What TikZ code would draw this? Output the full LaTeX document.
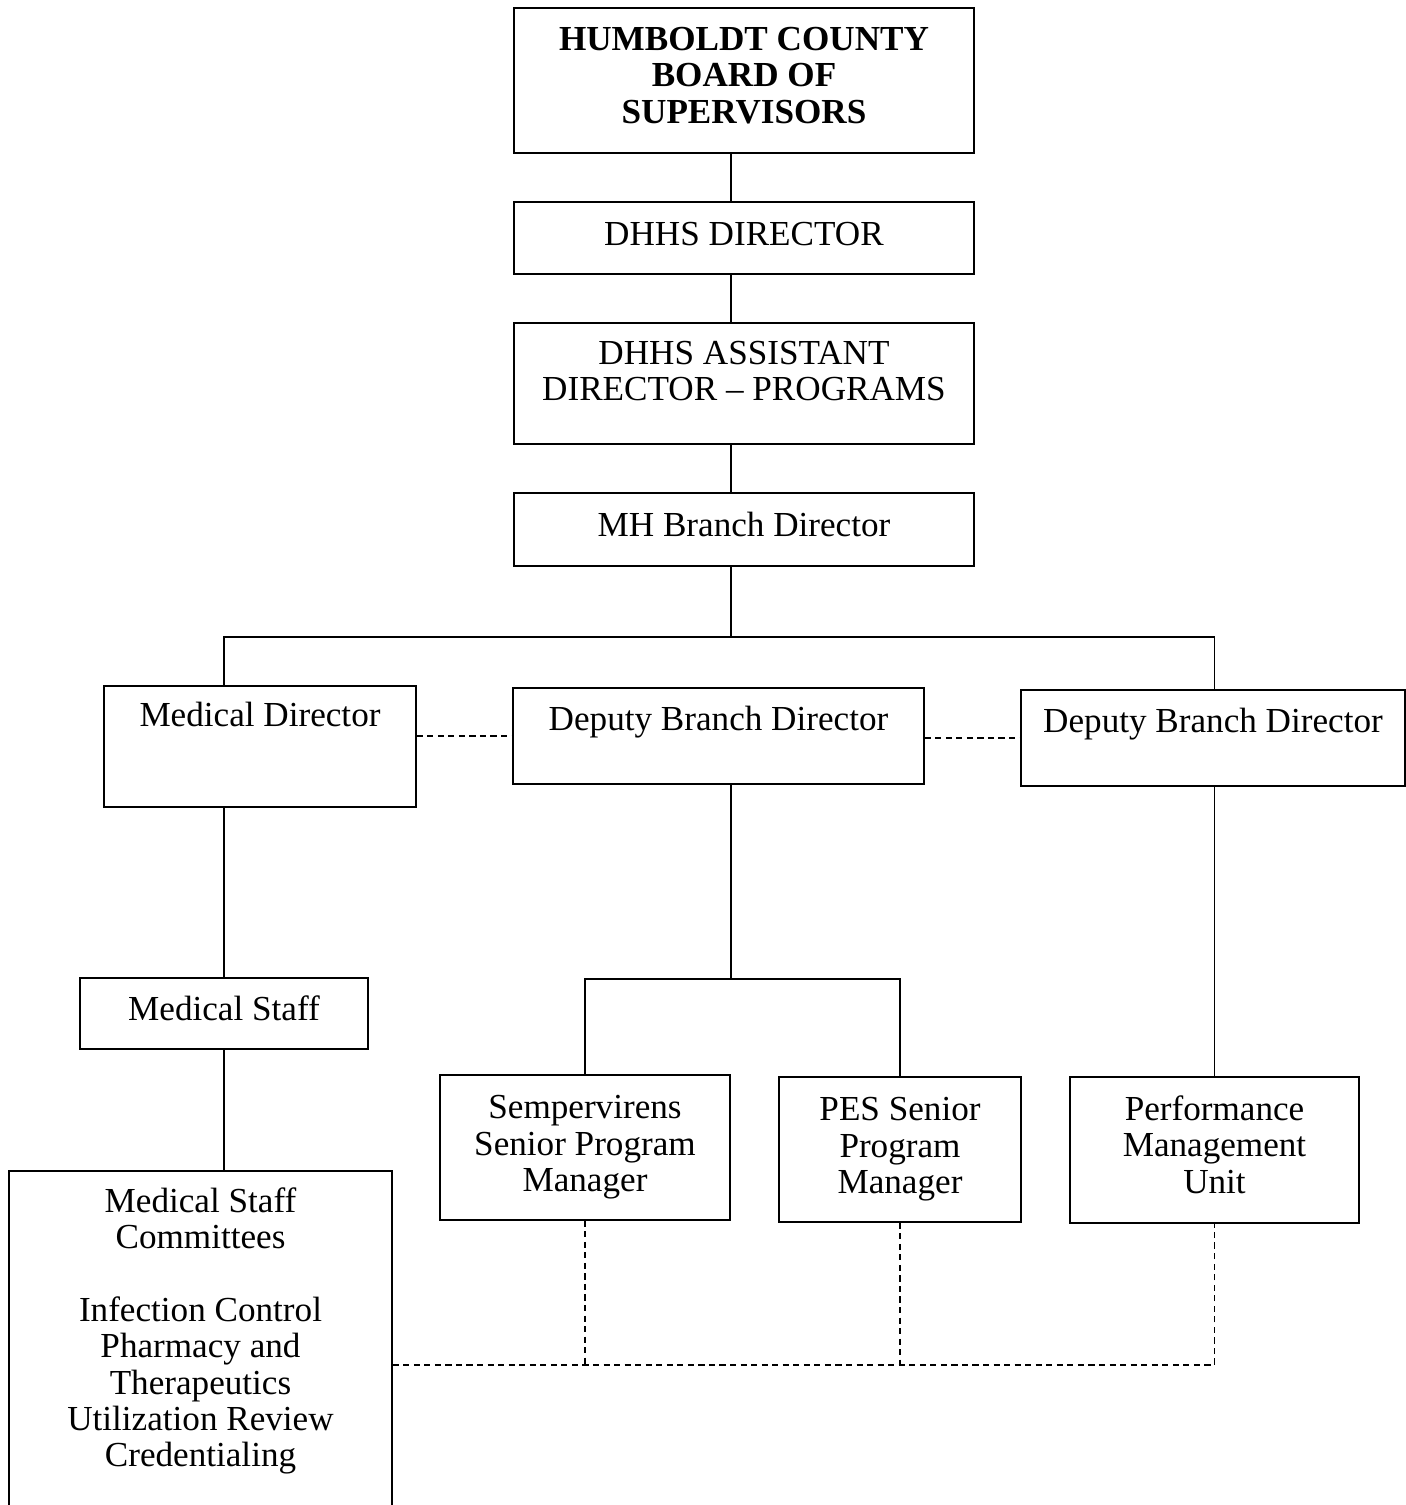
\documentclass[tikz,border=0pt]{standalone}
\usepackage{fontspec}
\setmainfont{Liberation Serif}
\usetikzlibrary{positioning, calc}

\begin{document}
\begin{tikzpicture}[x=0.02cm, y=-0.02cm,
    box/.style={draw, line width=0.8pt, align=center, inner sep=0pt,
        font=\fontsize{20}{20.7}\selectfont},
    link/.style={line width=0.8pt},
    dotlink/.style={line width=0.6pt, dash pattern=on 3.5pt off 2.5pt}]
    \useasboundingbox (0,0) rectangle (1406,1505);

    % top of the chain
    \node[box, minimum width=9.2cm, minimum height=2.9cm, font=\fontsize{20}{20.7}\selectfont\bfseries]
        (board) at (744,80.5) {HUMBOLDT COUNTY\\BOARD OF\\SUPERVISORS\strut};
    \node[box, minimum width=9.2cm, minimum height=1.44cm] (dir) at (744,238) {DHHS DIRECTOR\strut};
    \node[box, minimum width=9.2cm, minimum height=2.42cm] (asst) at (744,383.5)
        {DHHS ASSISTANT\\DIRECTOR -- PROGRAMS\\[-6.5pt]};
    \node[box, minimum width=9.2cm, minimum height=1.46cm] (mhdir) at (744,529.5) {MH Branch Director\strut};

    % second row
    \node[box, minimum width=6.24cm, minimum height=2.42cm] (meddir) at (260,746.5)
        {Medical Director\\[15.5pt]};
    \node[box, minimum width=8.22cm, minimum height=1.92cm] (dep1) at (718.5,736)
        {Deputy Branch Director\\~};
    \node[box, minimum width=7.68cm, minimum height=1.92cm] (dep2) at (1213,738)
        {Deputy Branch Director\\~};

    % lower boxes
    \node[box, minimum width=5.76cm, minimum height=1.42cm] (medstaff) at (224,1013.5) {Medical Staff\strut};
    \node[box, minimum width=7.66cm, minimum height=6.78cm] (cttees) at (200.5,1340.5)
        {Medical Staff\\Committees\\~\\Infection Control\\Pharmacy and\\Therapeutics\\Utilization Review\\Credentialing\\[-5.4pt]};
    \node[box, minimum width=5.8cm, minimum height=2.9cm] (semp) at (585,1147.5)
        {Sempervirens\\Senior Program\\Manager};
    \node[box, minimum width=4.84cm, minimum height=2.9cm] (pes) at (900,1149.5)
        {PES Senior\\Program\\Manager};
    \node[box, minimum width=5.78cm, minimum height=2.92cm] (perf) at (1214.5,1150)
        {Performance\\Management\\Unit\strut};

    \coordinate (spine) at (731,0);
    \coordinate (bus) at (0,637);
    \coordinate (fork) at (0,979);
    \coordinate (dline) at (0,1365);

    % solid lines
    \draw[link] (board.south -| spine) -- (dir.north -| spine);
    \draw[link] (dir.south -| spine) -- (asst.north -| spine);
    \draw[link] (asst.south -| spine) -- (mhdir.north -| spine);
    \draw[link] (mhdir.south -| spine) -- (spine |- bus);
    \draw[link] (medstaff.north |- meddir.north) -- (medstaff.north |- bus)
        -- (perf.north |- bus) -- (perf.north |- dep2.north);
    \draw[link] (medstaff.north |- meddir.south) -- (medstaff.north);
    \draw[link] (medstaff.south) -- (medstaff.south |- cttees.north);
    \draw[link] (spine |- dep1.south) -- (spine |- fork);
    \draw[link] (semp.north) -- (semp.north |- fork) -- (pes.north |- fork) -- (pes.north);
    \draw[link] (perf.north |- dep2.south) -- (perf.north);

    % dashed lines
    \draw[dotlink] (meddir.east |- dep1.west) -- (dep1.west);
    \draw[dotlink] (dep1.east |- dep2.west) -- (dep2.west);
    \draw[dotlink] (cttees.east |- dline) -- (perf.south |- dline) -- (perf.south);
    \draw[dotlink] (semp.south) -- (semp.south |- dline);
    \draw[dotlink] (pes.south) -- (pes.south |- dline);
\end{tikzpicture}
\end{document}
